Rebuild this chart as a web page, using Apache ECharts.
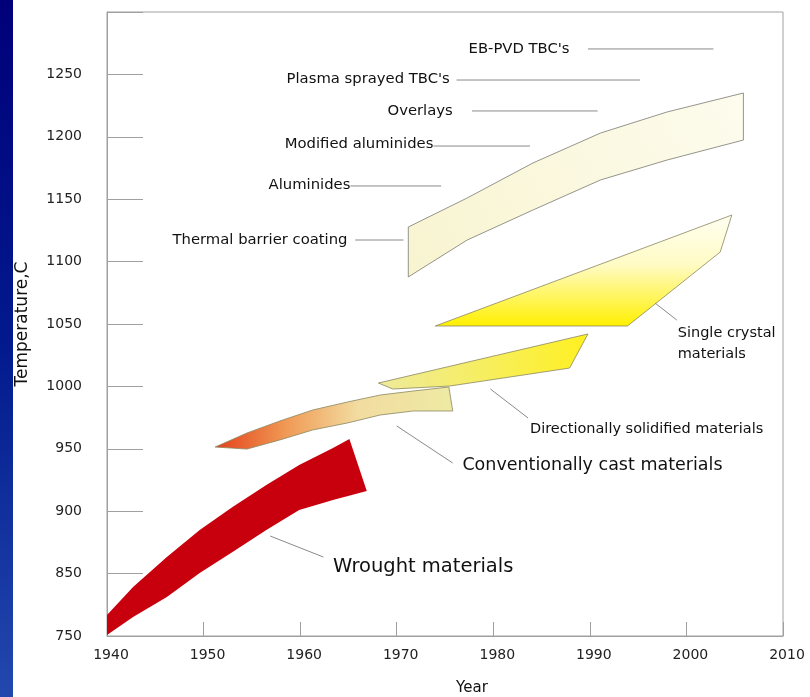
<!DOCTYPE html>
<html>
<head>
<meta charset="utf-8">
<script src="https://cdn.jsdelivr.net/npm/echarts@6/dist/echarts.min.js"></script>
<style>
  html, body { margin: 0; padding: 0; background: #ffffff; }
  #chart { width: 810px; height: 697px; }
</style>
</head>
<body>
<div id="chart"></div>
<script>
// ---- Data (year, temperature) ----
const xTicks = [1940, 1950, 1960, 1970, 1980, 1990, 2000, 2010];
const yTickLabels = ['750', '850', '900', '950', '1000', '1050', '1100', '1150', '1200', '1250'];

const wrought = [
  [1940.0, 816.8], [1942.7, 839.3], [1946.2, 863.3], [1949.6, 884.9], [1953.0, 903.4],
  [1956.5, 921.0], [1959.9, 937.0], [1963.4, 950.6], [1965.1, 957.9],
  [1966.9, 916.2], [1963.4, 909.0], [1959.9, 901.0], [1956.5, 884.9], [1953.0, 867.3],
  [1949.6, 850.5], [1946.2, 831.3], [1942.7, 815.2], [1940.0, 800.8]
];
const conventional = [
  [1951.2, 951.4], [1954.5, 949.8], [1957.9, 957.1], [1961.3, 965.1], [1964.9, 970.7],
  [1968.3, 977.1], [1971.7, 980.3], [1975.8, 980.3],
  [1975.4, 999.5], [1971.7, 996.3], [1968.3, 993.1], [1964.9, 987.5], [1961.3, 981.1],
  [1957.9, 972.3], [1954.5, 962.7]
];
const directional = [
  [1968.1, 1002.7], [1969.6, 997.9], [1975.5, 1000.3], [1987.9, 1014.7], [1989.8, 1042.0]
];
const singleCrystal = [
  [1974.0, 1048.4], [1993.9, 1048.4], [2003.5, 1107.7], [2004.7, 1137.3]
];
const tbc = [
  [1971.2, 1087.7], [1971.2, 1127.7], [1977.3, 1151.0], [1984.1, 1179.0], [1991.1, 1203.0],
  [1998.0, 1219.9], [2005.9, 1235.1], [2005.9, 1197.4], [1998.0, 1181.4], [1991.1, 1165.4],
  [1984.1, 1141.3], [1977.3, 1117.3]
];

const coatingLabels = ["EB-PVD TBC's", "Plasma sprayed TBC's", "Overlays", "Modified aluminides", "Aluminides", "Thermal barrier coating"];
const materialLabels = ["Single crystal\nmaterials", "Directionally solidified materials", "Conventionally cast materials", "Wrought materials"];

// ---- Annotation layout (data coordinates) ----
const coatingLayout = [
  { text: [1987.9, 1270.4], line: [[1989.8, 1270.4], [2002.8, 1270.4]] },
  { text: [1975.5, 1246.3], line: [[1976.2, 1245.5], [1995.2, 1245.5]] },
  { text: [1975.8, 1220.7], line: [[1977.8, 1220.7], [1990.8, 1220.7]] },
  { text: [1973.8, 1194.2], line: [[1973.8, 1192.6], [1983.8, 1192.6]] },
  { text: [1965.2, 1161.4], line: [[1965.2, 1160.6], [1974.6, 1160.6]] },
  { text: [1964.9, 1117.3], line: [[1965.7, 1117.3], [1970.7, 1117.3]] }
];
const materialLayout = [
  { text: [1999.1, 1051.0], line: [[1996.75, 1066.8], [1999.0, 1053.2]], size: 14.5, top: true },
  { text: [1983.8, 965.9], line: [[1979.7, 997.9], [1983.6, 974.7]], size: 14.5 },
  { text: [1976.8, 937.0], line: [[1970.0, 968.3], [1975.8, 938.6]], size: 17.5 },
  { text: [1963.4, 855.3], line: [[1956.9, 880.1], [1962.4, 863.3]], size: 19.5 }
];

const FONT = '"DejaVu Sans", sans-serif';
const chart = echarts.init(document.getElementById('chart'));
const G = echarts.graphic;

function polySeries(name, pts, fill, stroke) {
  return {
    type: 'custom', name: name, data: pts, silent: true, clip: false,
    renderItem: function (params, api) {
      if (params.dataIndex !== 0) return null;
      return {
        type: 'polygon',
        shape: { points: pts.map(function (p) { return api.coord(p); }) },
        style: { fill: fill, stroke: stroke, lineWidth: stroke ? 0.8 : 0 }
      };
    }
  };
}

function annotationSeries(labels, layout, align, defaultSize) {
  return {
    type: 'custom', data: labels.map(function (l, i) { return layout[i].text; }),
    silent: true, clip: false,
    renderItem: function (params, api) {
      const i = params.dataIndex;
      const L = layout[i];
      const p = api.coord(L.text);
      const a = api.coord(L.line[0]);
      const b = api.coord(L.line[1]);
      return {
        type: 'group',
        children: [
          { type: 'line', shape: { x1: a[0], y1: a[1], x2: b[0], y2: b[1] },
            style: { stroke: '#8a8a8a', lineWidth: 1 } },
          { type: 'text', x: p[0], y: p[1],
            style: { text: labels[i], fill: '#111', fontFamily: FONT,
                     fontSize: L.size || defaultSize, align: align,
                     verticalAlign: L.top ? 'top' : 'middle', lineHeight: 21 } }
        ]
      };
    }
  };
}

const option = {
  backgroundColor: '#ffffff',
  animation: false,
  graphic: [
    { type: 'rect', left: 0, top: 0, shape: { width: 13, height: 697 }, silent: true,
      style: { fill: new G.LinearGradient(0, 0, 0, 1, [
        { offset: 0, color: '#00007a' }, { offset: 0.5, color: '#021a8e' }, { offset: 1, color: '#2248ae' }]) } }
  ],
  grid: { left: 107, right: 27, top: 12, bottom: 61, show: true, borderColor: '#a0a0a0', borderWidth: 1,
          containLabel: false, outerBoundsMode: 'none' },
  xAxis: {
    type: 'value', min: xTicks[0], max: xTicks[xTicks.length - 1], interval: 10,
    name: 'Year', nameLocation: 'middle', nameGap: 45,
    nameTextStyle: { fontFamily: FONT, fontSize: 15, color: '#111', padding: [0, 0, 0, 54] },
    axisLine: { lineStyle: { color: '#a0a0a0' } },
    axisTick: { inside: true, length: 14, lineStyle: { color: '#a0a0a0' } },
    axisLabel: { fontFamily: FONT, fontSize: 14, color: '#222', margin: 12, padding: [0, 0, 0, 8],
      formatter: function (v) { return xTicks.indexOf(v) >= 0 ? String(v) : ''; } },
    splitLine: { show: false }
  },
  yAxis: {
    type: 'value', min: 800, max: 1300, interval: 50,
    name: 'Temperature,C', nameLocation: 'middle', nameGap: 76, nameRotate: 90,
    nameTextStyle: { fontFamily: FONT, fontSize: 17, color: '#111' },
    axisLine: { show: true, lineStyle: { color: '#a0a0a0' } },
    axisTick: { show: true, inside: true, length: 36, lineStyle: { color: '#a0a0a0' } },
    axisLabel: { fontFamily: FONT, fontSize: 14, color: '#222', margin: 25,
      formatter: function (v) {
        const idx = [800, 850, 900, 950, 1000, 1050, 1100, 1150, 1200, 1250].indexOf(v);
        return idx >= 0 ? yTickLabels[idx] : '';
      } },
    splitLine: { show: false }
  },
  series: [
    polySeries('Wrought materials', wrought, '#c8000e', null),
    polySeries('Conventionally cast materials', conventional, new G.LinearGradient(0, 0, 1, 0, [
      { offset: 0, color: '#e3401a' }, { offset: 0.3, color: '#f09a55' },
      { offset: 0.6, color: '#f2dca0' }, { offset: 1, color: '#eeeaa4' }]), '#8a8660'),
    polySeries('Directionally solidified materials', directional, new G.LinearGradient(0, 0, 1, 0, [
      { offset: 0, color: '#eeea9c' }, { offset: 0.5, color: '#f6ee60' }, { offset: 1, color: '#fff020' }]), '#8a8660'),
    polySeries('Single crystal materials', singleCrystal, new G.LinearGradient(0, 0, 0, 1, [
      { offset: 0, color: '#fffff2' }, { offset: 0.45, color: '#fffbc4' }, { offset: 1, color: '#fff000' }]), '#8a8660'),
    polySeries('Thermal barrier coating', tbc, new G.LinearGradient(1, 0, 0, 1, [
      { offset: 0, color: '#fdfcee' }, { offset: 1, color: '#f8f4d0' }]), '#7a7a70'),
    annotationSeries(coatingLabels, coatingLayout, 'right', 14.8),
    annotationSeries(materialLabels, materialLayout, 'left', 14.5)
  ]
};
chart.setOption(option);
</script>
</body>
</html>
